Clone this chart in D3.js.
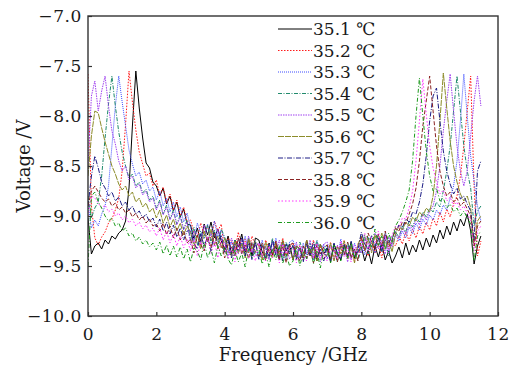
<!DOCTYPE html>
<html>
<head>
<meta charset="utf-8">
<script src="https://cdn.jsdelivr.net/npm/d3@7"></script>
<style>
  body { margin: 0; background: #fff; }
  svg { display: block; font-family: "DejaVu Serif", serif; }
</style>
</head>
<body>
<div id="chart"></div>
<script>
// temperatures (legend labels)
let temps = ["35.1", "35.2", "35.3", "35.4", "35.5", "35.6", "35.7", "35.8", "35.9", "36.0"];
// frequency grid: one reading every 0.1 GHz, 0 to 11.5 GHz
let freqStep = 0.1;

let xTicks = [0, 2, 4, 6, 8, 10, 12];
let yTicks = [-10, -9.5, -9, -8.5, -8, -7.5, -7];

// voltage readings (V), rows of 1 GHz
let v351 = [
  -9.02, -9.38, -9.30, -9.27, -9.33, -9.24, -9.28, -9.20, -9.23, -9.17,
  -9.14, -9.05, -8.72, -8.10, -7.55, -7.92, -8.22, -8.47, -8.52, -8.66,
  -8.70, -8.80, -8.72, -8.88, -8.80, -8.95, -8.86, -9.01, -8.93, -9.08,
  -9.09, -9.23, -9.12, -9.26, -9.08, -9.19, -9.06, -9.22, -9.13, -9.25,
  -9.33, -9.20, -9.38, -9.24, -9.31, -9.18, -9.36, -9.23, -9.40, -9.22,
  -9.24, -9.36, -9.42, -9.27, -9.39, -9.30, -9.44, -9.25, -9.35, -9.28,
  -9.44, -9.30, -9.33, -9.42, -9.24, -9.40, -9.31, -9.45, -9.28, -9.38,
  -9.32, -9.46, -9.28, -9.38, -9.44, -9.29, -9.41, -9.26, -9.42, -9.35,
  -9.31, -9.45, -9.34, -9.48, -9.30, -9.41, -9.28, -9.44, -9.35, -9.47,
  -9.40, -9.31, -9.42, -9.27, -9.39, -9.29, -9.36, -9.24, -9.34, -9.22,
  -9.31, -9.19, -9.27, -9.14, -9.23, -9.10, -9.19, -9.06, -9.15, -9.03,
  -9.10, -8.98, -9.15, -9.48, -9.30, -9.20
];
let v352 = [
  -7.58, -8.90, -9.22, -9.29, -9.21, -9.16, -9.07, -9.03, -8.94, -8.82,
  -8.55, -8.08, -7.55, -7.86, -8.14, -8.36, -8.48, -8.60, -8.57, -8.70,
  -8.64, -8.80, -8.71, -8.87, -8.78, -8.94, -8.84, -9.00, -8.91, -9.06,
  -9.04, -9.16, -9.22, -9.07, -9.19, -9.10, -9.24, -9.05, -9.15, -9.08,
  -9.36, -9.22, -9.25, -9.34, -9.16, -9.32, -9.23, -9.37, -9.20, -9.30,
  -9.28, -9.42, -9.24, -9.34, -9.40, -9.25, -9.37, -9.22, -9.38, -9.31,
  -9.27, -9.41, -9.30, -9.44, -9.26, -9.37, -9.24, -9.40, -9.31, -9.43,
  -9.39, -9.26, -9.44, -9.30, -9.37, -9.24, -9.42, -9.29, -9.46, -9.28,
  -9.22, -9.34, -9.40, -9.25, -9.37, -9.28, -9.42, -9.23, -9.33, -9.26,
  -9.30, -9.20, -9.28, -9.16, -9.25, -9.13, -9.22, -9.10, -9.18, -9.06,
  -9.14, -9.02, -9.10, -8.96, -9.06, -8.93, -9.01, -8.88, -8.80, -8.60,
  -8.30, -7.95, -7.60, -8.70, -9.40, -9.25
];
let v353 = [
  -8.88, -9.12, -9.04, -9.10, -8.98, -8.90, -8.70, -8.30, -7.90, -7.60,
  -7.86, -8.10, -8.34, -8.48, -8.60, -8.56, -8.68, -8.64, -8.75, -8.71,
  -8.84, -8.75, -8.90, -8.82, -8.96, -8.86, -9.01, -8.91, -9.06, -8.97,
  -9.11, -9.25, -9.07, -9.17, -9.23, -9.08, -9.20, -9.05, -9.21, -9.14,
  -9.23, -9.37, -9.26, -9.40, -9.22, -9.33, -9.20, -9.36, -9.27, -9.39,
  -9.37, -9.24, -9.42, -9.28, -9.35, -9.22, -9.40, -9.27, -9.44, -9.26,
  -9.24, -9.36, -9.42, -9.27, -9.39, -9.30, -9.44, -9.25, -9.35, -9.28,
  -9.43, -9.29, -9.32, -9.41, -9.23, -9.39, -9.30, -9.44, -9.27, -9.37,
  -9.25, -9.39, -9.21, -9.31, -9.37, -9.22, -9.34, -9.19, -9.35, -9.28,
  -9.19, -9.25, -9.15, -9.22, -9.11, -9.18, -9.07, -9.14, -9.03, -9.09,
  -8.99, -9.04, -8.94, -8.99, -8.89, -8.94, -8.82, -8.70, -8.45, -8.05,
  -7.58, -8.00, -8.40, -8.65, -8.90, -9.05
];
let v354 = [
  -8.80, -9.02, -8.92, -8.86, -8.60, -8.22, -7.88, -7.60, -7.90, -8.16,
  -8.36, -8.50, -8.62, -8.58, -8.70, -8.66, -8.77, -8.73, -8.84, -8.80,
  -8.92, -8.84, -8.98, -8.89, -9.03, -8.94, -9.08, -8.99, -9.13, -9.04,
  -9.24, -9.11, -9.29, -9.15, -9.22, -9.09, -9.27, -9.14, -9.31, -9.13,
  -9.21, -9.33, -9.39, -9.24, -9.36, -9.27, -9.41, -9.22, -9.32, -9.25,
  -9.42, -9.28, -9.31, -9.40, -9.22, -9.38, -9.29, -9.43, -9.26, -9.36,
  -9.30, -9.44, -9.26, -9.36, -9.42, -9.27, -9.39, -9.24, -9.40, -9.33,
  -9.29, -9.43, -9.32, -9.46, -9.28, -9.39, -9.26, -9.42, -9.33, -9.45,
  -9.33, -9.20, -9.38, -9.24, -9.31, -9.18, -9.36, -9.23, -9.40, -9.22,
  -9.16, -9.21, -9.10, -9.16, -9.05, -9.11, -9.01, -9.06, -8.96, -9.01,
  -8.92, -8.96, -8.86, -8.91, -8.75, -8.55, -8.30, -7.95, -7.60, -7.95,
  -8.30, -8.55, -8.72, -9.10, -8.95, -8.90
];
let v355 = [
  -8.50, -7.80, -7.65, -7.95, -7.75, -7.60, -7.90, -8.15, -8.28, -8.45,
  -8.55, -8.50, -8.64, -8.60, -8.72, -8.68, -8.79, -8.75, -8.86, -8.82,
  -8.94, -8.86, -8.99, -8.91, -9.04, -8.96, -9.09, -9.01, -9.14, -9.06,
  -9.29, -9.15, -9.18, -9.27, -9.09, -9.25, -9.16, -9.30, -9.13, -9.23,
  -9.26, -9.40, -9.22, -9.32, -9.38, -9.23, -9.35, -9.20, -9.36, -9.29,
  -9.27, -9.41, -9.30, -9.44, -9.26, -9.37, -9.24, -9.40, -9.31, -9.43,
  -9.39, -9.26, -9.44, -9.30, -9.37, -9.24, -9.42, -9.29, -9.46, -9.28,
  -9.26, -9.38, -9.44, -9.29, -9.41, -9.32, -9.46, -9.27, -9.37, -9.30,
  -9.37, -9.23, -9.26, -9.35, -9.17, -9.33, -9.24, -9.38, -9.21, -9.31,
  -9.18, -9.22, -9.12, -9.18, -9.08, -9.14, -9.03, -9.09, -8.98, -9.04,
  -8.95, -8.90, -8.75, -8.50, -8.15, -7.85, -7.58, -7.95, -8.30, -8.55,
  -8.70, -8.55, -8.20, -7.85, -7.60, -7.90
];
let v356 = [
  -8.60, -8.20, -7.95, -7.97, -8.12, -8.26, -8.38, -8.50, -8.58, -8.68,
  -8.74, -8.70, -8.80, -8.76, -8.86, -8.82, -8.91, -8.87, -8.96, -8.92,
  -9.02, -8.94, -9.07, -8.99, -9.11, -9.03, -9.15, -9.07, -9.19, -9.10,
  -9.16, -9.30, -9.19, -9.33, -9.15, -9.26, -9.13, -9.29, -9.20, -9.32,
  -9.22, -9.34, -9.40, -9.25, -9.37, -9.28, -9.42, -9.23, -9.33, -9.26,
  -9.30, -9.44, -9.26, -9.36, -9.42, -9.27, -9.39, -9.24, -9.40, -9.33,
  -9.44, -9.30, -9.33, -9.42, -9.24, -9.40, -9.31, -9.45, -9.28, -9.38,
  -9.40, -9.27, -9.45, -9.31, -9.38, -9.25, -9.43, -9.30, -9.47, -9.29,
  -9.20, -9.34, -9.23, -9.37, -9.19, -9.30, -9.17, -9.33, -9.24, -9.36,
  -9.18, -9.10, -9.14, -9.06, -9.10, -9.01, -9.05, -8.96, -9.00, -8.92,
  -8.96, -8.80, -8.50, -8.05, -7.57, -7.92, -8.25, -8.50, -8.66, -8.78,
  -8.85, -8.80, -8.92, -9.30, -9.05, -9.00
];
let v357 = [
  -8.90, -8.60, -8.40, -8.52, -8.66, -8.72, -8.80, -8.76, -8.85, -8.81,
  -8.90, -8.86, -8.94, -8.90, -8.98, -8.95, -9.02, -8.98, -9.06, -9.02,
  -9.11, -9.03, -9.15, -9.06, -9.18, -9.09, -9.21, -9.12, -9.24, -9.15,
  -9.15, -9.27, -9.33, -9.18, -9.30, -9.21, -9.35, -9.16, -9.26, -9.19,
  -9.37, -9.24, -9.42, -9.28, -9.35, -9.22, -9.40, -9.27, -9.44, -9.26,
  -9.44, -9.30, -9.33, -9.42, -9.24, -9.40, -9.31, -9.45, -9.28, -9.38,
  -9.29, -9.43, -9.32, -9.46, -9.28, -9.39, -9.26, -9.42, -9.33, -9.45,
  -9.31, -9.45, -9.27, -9.37, -9.43, -9.28, -9.40, -9.25, -9.41, -9.34,
  -9.16, -9.28, -9.34, -9.19, -9.31, -9.22, -9.36, -9.17, -9.27, -9.20,
  -9.16, -9.09, -9.12, -9.03, -9.06, -8.96, -8.98, -8.86, -8.68, -8.40,
  -8.05, -7.80, -7.72, -8.05, -8.35, -8.55, -8.68, -8.78, -8.72, -8.83,
  -8.80, -8.88, -8.95, -9.25, -8.55, -8.45
];
let v358 = [
  -8.90, -8.75, -8.70, -8.76, -8.82, -8.86, -8.83, -8.90, -8.87, -8.94,
  -8.91, -8.97, -8.94, -9.01, -8.97, -9.04, -9.00, -9.07, -9.03, -9.10,
  -9.08, -9.15, -9.07, -9.19, -9.10, -9.22, -9.12, -9.24, -9.15, -9.27,
  -9.23, -9.37, -9.19, -9.29, -9.35, -9.20, -9.32, -9.17, -9.33, -9.26,
  -9.42, -9.28, -9.31, -9.40, -9.22, -9.38, -9.29, -9.43, -9.26, -9.36,
  -9.40, -9.27, -9.45, -9.31, -9.38, -9.25, -9.43, -9.30, -9.47, -9.29,
  -9.27, -9.39, -9.45, -9.30, -9.42, -9.33, -9.47, -9.28, -9.38, -9.31,
  -9.29, -9.43, -9.32, -9.46, -9.28, -9.39, -9.26, -9.42, -9.33, -9.45,
  -9.21, -9.35, -9.17, -9.27, -9.33, -9.18, -9.30, -9.15, -9.31, -9.24,
  -9.12, -9.15, -9.06, -9.08, -8.98, -8.88, -8.72, -8.45, -8.10, -7.85,
  -7.60, -7.95, -8.30, -8.55, -8.70, -8.80, -8.76, -8.86, -8.82, -8.90,
  -8.86, -8.93, -9.00, -9.30, -9.10, -9.05
];
let v359 = [
  -9.00, -8.80, -8.82, -8.87, -8.92, -8.89, -8.96, -8.93, -9.00, -8.97,
  -9.04, -9.00, -9.07, -9.03, -9.10, -9.06, -9.13, -9.09, -9.16, -9.12,
  -9.20, -9.12, -9.24, -9.15, -9.27, -9.18, -9.30, -9.20, -9.32, -9.23,
  -9.35, -9.22, -9.40, -9.26, -9.33, -9.20, -9.38, -9.25, -9.42, -9.24,
  -9.29, -9.43, -9.32, -9.46, -9.28, -9.39, -9.26, -9.42, -9.33, -9.45,
  -9.27, -9.39, -9.45, -9.30, -9.42, -9.33, -9.47, -9.28, -9.38, -9.31,
  -9.33, -9.47, -9.29, -9.39, -9.45, -9.30, -9.42, -9.27, -9.43, -9.36,
  -9.45, -9.31, -9.34, -9.43, -9.25, -9.41, -9.32, -9.46, -9.29, -9.39,
  -9.30, -9.17, -9.35, -9.21, -9.28, -9.15, -9.33, -9.20, -9.37, -9.19,
  -9.10, -9.12, -9.02, -9.03, -8.92, -8.75, -8.45, -8.05, -7.63, -7.98,
  -8.30, -8.52, -8.66, -8.78, -8.74, -8.85, -8.81, -8.90, -8.86, -8.94,
  -8.90, -8.97, -9.05, -9.35, -9.15, -9.10
];
let v360 = [
  -9.50, -8.80, -8.76, -8.86, -8.92, -9.00, -9.05, -9.02, -9.10, -9.07,
  -9.15, -9.12, -9.20, -9.17, -9.25, -9.21, -9.28, -9.24, -9.31, -9.27,
  -9.34, -9.26, -9.38, -9.29, -9.40, -9.30, -9.41, -9.31, -9.43, -9.33,
  -9.46, -9.32, -9.35, -9.44, -9.26, -9.42, -9.33, -9.47, -9.30, -9.40,
  -9.31, -9.43, -9.49, -9.34, -9.46, -9.37, -9.51, -9.32, -9.42, -9.35,
  -9.34, -9.48, -9.37, -9.51, -9.33, -9.44, -9.31, -9.47, -9.38, -9.50,
  -9.45, -9.32, -9.50, -9.36, -9.43, -9.30, -9.48, -9.35, -9.52, -9.34,
  -9.33, -9.47, -9.29, -9.39, -9.45, -9.30, -9.42, -9.27, -9.43, -9.36,
  -9.33, -9.19, -9.22, -9.31, -9.13, -9.29, -9.20, -9.34, -9.17, -9.27,
  -9.10, -9.04, -8.96, -8.86, -8.74, -8.45, -8.00, -7.62, -8.00, -8.35,
  -8.60, -8.75, -8.72, -8.85, -8.82, -8.92, -8.88, -8.96, -8.92, -9.00,
  -8.95, -9.02, -9.08, -9.45, -9.20, -9.15
];

let seriesValues = [v351, v352, v353, v354, v355, v356, v357, v358, v359, v360];

// line styles for each temperature
let colors = ["#000000", "#ff1a1a", "#3d4dff", "#208a6c", "#a040f0",
              "#8c8c2a", "#1c1c85", "#8b2323", "#ff33ff", "#1e9a1e"];
let dashes = [null, "1.5,1.5", "1,1", "4,1.5,1,1.5", "1.5,1",
              "6,1", "5,1.5,1,1.5", "4,2", "1.5,2", "4,2,1,2"];

let w = 516, h = 369;
let margin = {left: 88, right: 18, top: 16, bottom: 53};

let viz = d3.select("#chart")
  .append("svg")
    .attr("width", w)
    .attr("height", h)
;

let xScale = d3.scaleLinear().domain([0, 12]).range([margin.left, w - margin.right]);
let yScale = d3.scaleLinear().domain([-10, -7]).range([h - margin.bottom, margin.top]);

viz.append("clipPath").attr("id", "plotclip")
  .append("rect")
    .attr("x", margin.left)
    .attr("y", margin.top)
    .attr("width", w - margin.left - margin.right)
    .attr("height", h - margin.top - margin.bottom)
;

// curves
let lineMaker = d3.line()
  .x(function(d, i){ return xScale(i * freqStep); })
  .y(function(d){ return yScale(d); })
;

viz.append("g")
  .attr("clip-path", "url(#plotclip)")
  .selectAll("path")
  .data(seriesValues)
  .enter()
  .append("path")
    .attr("d", lineMaker)
    .attr("fill", "none")
    .attr("stroke", function(d, i){ return colors[i]; })
    .attr("stroke-width", 1)
    .attr("stroke-dasharray", function(d, i){ return dashes[i]; })
;

// axes, ticks pointing inwards
let xAxis = d3.axisBottom(xScale)
  .tickValues(xTicks)
  .tickFormat(d3.format("d"))
  .tickSizeInner(-4)
  .tickSizeOuter(0)
  .tickPadding(12)
;
let xAxisGroup = viz.append("g")
  .attr("transform", "translate(0," + (h - margin.bottom) + ")")
  .call(xAxis)
;

let yAxis = d3.axisLeft(yScale)
  .tickValues(yTicks)
  .tickFormat(d3.format(".1f"))
  .tickSizeInner(-4)
  .tickSizeOuter(0)
  .tickPadding(6)
;
let yAxisGroup = viz.append("g")
  .attr("transform", "translate(" + margin.left + ",0)")
  .call(yAxis)
;

viz.selectAll(".domain").remove();
viz.selectAll(".tick line").attr("stroke", "#333").attr("stroke-width", 1.2);
viz.selectAll(".tick text")
  .attr("fill", "#1a1a1a")
  .style("font-family", "'DejaVu Serif', serif")
  .style("font-size", "17px")
  .style("letter-spacing", "0.6px")
;

// frame around the plot
viz.append("rect")
  .attr("x", margin.left)
  .attr("y", margin.top)
  .attr("width", w - margin.left - margin.right)
  .attr("height", h - margin.top - margin.bottom)
  .attr("fill", "none")
  .attr("stroke", "#333")
  .attr("stroke-width", 1.4)
;

// axis titles
viz.append("text")
  .attr("x", xScale(6))
  .attr("y", 361)
  .attr("text-anchor", "middle")
  .style("font-size", "18px")
  .attr("fill", "#1a1a1a")
  .text("Frequency /GHz")
;
viz.append("text")
  .attr("transform", "translate(30," + yScale(-8.5) + ") rotate(-90)")
  .attr("text-anchor", "middle")
  .style("font-size", "18px")
  .attr("fill", "#1a1a1a")
  .text("Voltage /V")
;

// legend
let legend = viz.append("g").attr("transform", "translate(278,29)");
let rows = legend.selectAll("g")
  .data(temps)
  .enter()
  .append("g")
    .attr("transform", function(d, i){ return "translate(0," + (i * 21.5) + ")"; })
;
rows.append("line")
  .attr("x1", 0)
  .attr("x2", 34)
  .attr("stroke", function(d, i){ return colors[i]; })
  .attr("stroke-width", 1)
  .attr("stroke-dasharray", function(d, i){ return dashes[i]; })
;
rows.append("text")
  .attr("x", 35)
  .attr("dy", "0.36em")
  .style("font-size", "17px")
  .attr("fill", "#1a1a1a")
  .text(function(d){ return d + " \u2103"; })
;
</script>
</body>
</html>
